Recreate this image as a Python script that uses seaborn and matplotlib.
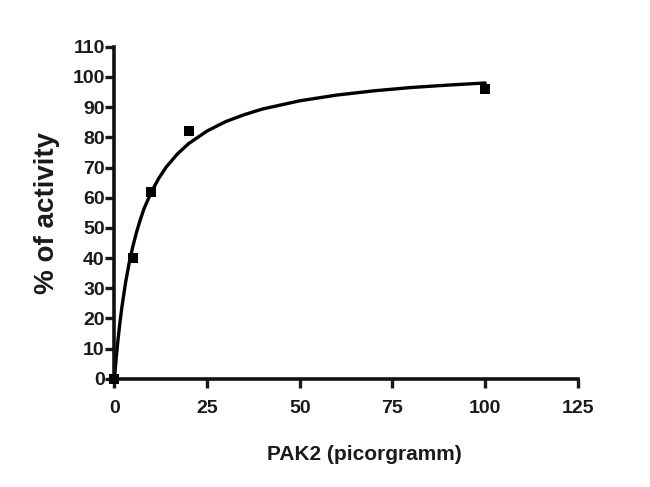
import seaborn as sns
import pandas as pd
import matplotlib
matplotlib.use('Agg')
import matplotlib.pyplot as plt

# measured points (PAK2 amount vs activity)
pak2_pg = [0, 5, 10, 20, 100]
activity = [0, 40, 62, 82, 96]

# fitted curve
curve_x = [0, 0.5, 1, 1.5, 2, 3, 4, 5, 6, 7, 8, 10, 12, 14, 17, 20, 25, 30,
           35, 40, 50, 60, 70, 80, 90, 100]
curve_y = [0, 7.1, 13.3, 18.7, 23.6, 31.8, 38.5, 44.0, 48.7, 52.8, 56.4, 62.0,
           66.5, 70.2, 74.5, 77.9, 82.1, 85.2, 87.5, 89.4, 92.1, 94.0, 95.4,
           96.5, 97.3, 98.0]

x_ticks = [0, 25, 50, 75, 100, 125]
y_ticks = list(range(0, 111, 10))

pts = pd.DataFrame({'x': pak2_pg, 'y': activity})
fit = pd.DataFrame({'x': curve_x, 'y': curve_y})

sns.set_theme(style='ticks')
plt.rcParams['font.family'] = ['Liberation Sans', 'DejaVu Sans']
plt.rcParams['font.weight'] = 'bold'
plt.rcParams['axes.labelweight'] = 'bold'

fig = plt.figure(figsize=(6.5, 4.87), dpi=100)
ax = fig.add_axes([0.176, 0.222, 0.713, 0.682])

sns.lineplot(data=fit, x='x', y='y', color='black', linewidth=2.4, ax=ax)
sns.scatterplot(data=pts, x='x', y='y', marker='s', s=55, color='black',
                edgecolor='black', linewidth=0, ax=ax, clip_on=False, zorder=5)

ax.set_xlim(0, 125)
ax.set_ylim(0, 110)
ax.set_xticks(x_ticks)
ax.set_yticks(y_ticks)
ax.tick_params(axis='both', direction='out', length=6.5, width=2.4,
               labelsize=14, colors='#1a1a1a')
ax.tick_params(axis='x', pad=9)
ax.tick_params(axis='y', pad=0.5)
for lab in ax.get_xticklabels() + ax.get_yticklabels():
    lab.set_fontweight('bold')
for side in ['left', 'bottom']:
    ax.spines[side].set_linewidth(2.6)
    ax.spines[side].set_color('#111111')
sns.despine(ax=ax)

ax.set_xlabel('PAK2 (picorgramm)', fontsize=15, color='#1a1a1a', labelpad=22)
ax.xaxis.set_label_coords(0.539, -0.2)
ax.set_ylabel('% of activity', fontsize=20, color='#1a1a1a', labelpad=9)

fig.savefig('out.png', dpi=100)
